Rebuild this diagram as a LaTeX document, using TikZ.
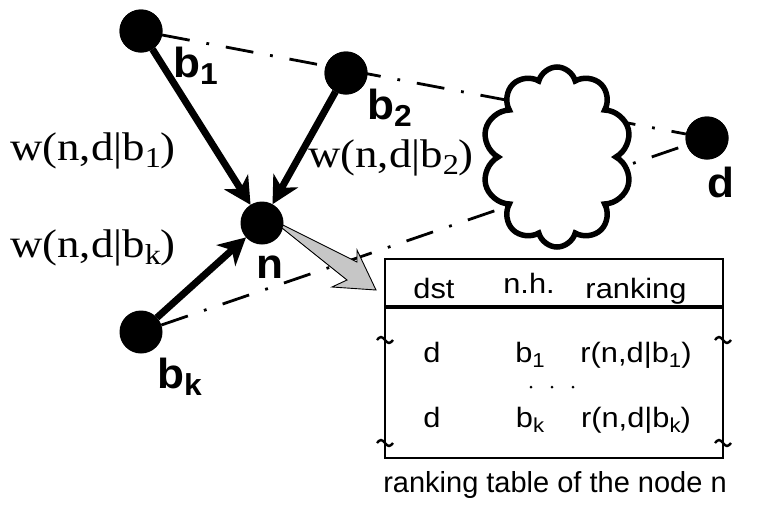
\documentclass[tikz,border=0pt]{standalone}
\usepackage{fontspec}
\usepackage{graphicx}
\usetikzlibrary{arrows.meta,shapes.symbols}
\newfontfamily\lblfont[FakeStretch=1.05]{Liberation Sans}
\newfontfamily\wfont[FakeStretch=1.12]{Liberation Serif}
\newfontfamily\tabfont[FakeStretch=1.1]{Liberation Sans}
\newfontfamily\capfont{Liberation Sans}
\newcommand\lowsub[1]{\raisebox{-0.18em}{\scalebox{0.72}{#1}}}
\tikzset{
  vtx/.style={circle, fill=black, inner sep=0pt, outer sep=0pt, minimum size=43pt},
  warr/.style={line width=7pt, -{Stealth[length=27pt,width=28pt,inset=8pt]}},
  ddot/.style={line width=2.8pt, dash pattern=on 28pt off 17pt on 2.8pt off 17pt},
  vlbl/.style={anchor=base west, inner sep=0pt, font=\lblfont\bfseries\fontsize{42}{48}\selectfont},
  wlbl/.style={anchor=base west, inner sep=0pt, font=\wfont\fontsize{40}{46}\selectfont},
  tlbl/.style={anchor=base, inner sep=0pt, font=\tabfont\fontsize{28}{33}\selectfont},
  tld/.pic={\draw[line width=2.4pt] (-8,0) sin (-4,-3) cos (0,0) sin (4,3) cos (8,0);}
}
\begin{document}
\begin{tikzpicture}[x=1pt,y=-1pt]
\useasboundingbox (0,0) rectangle (757,504);
% vertices
\node[vtx] (b1) at (141,31) {};
\node[vtx] (b2) at (346,73) {};
\node[vtx] (n) at (262,223) {};
\node[vtx] (bk) at (141,332) {};
\node[vtx] (d) at (707,138) {};
% dash-dot paths
\draw[ddot] (b1) -- (d);
\draw[ddot] (bk) -- (d);
% cloud
\node[cloud, draw, fill=white, line width=5.5pt, cloud puffs=10, cloud puff arc=150,
      minimum width=150pt, minimum height=180pt, inner sep=0pt, aspect=0.85] (cl) at (557,157) {};
% redraw vertices on top
\node[vtx] at (b1) {};
\node[vtx] at (b2) {};
\node[vtx] at (d) {};
% arrows into n
\draw[warr] (b1) -- (n);
\draw[warr] (b2) -- (n);
\draw[warr] (bk) -- (n);
% gray pointer
\filldraw[fill=gray!45, draw=black, line width=0.9pt]
  (283,225) -- (357,262) -- (357,250) -- (376,290) -- (332,287) -- (347,280) -- (282,228) -- cycle;
% vertex labels
\node[vlbl] (lb1) at (173,77) {b\lowsub{1}};
\node[vlbl] (lb2) at (367,119) {b\lowsub{2}};
\node[vlbl] (ld) at (707,197) {d};
\node[vlbl] (ln) at (256,278) {n};
\node[vlbl] (lbk) at (157,388) {b\lowsub{k}};
% weight labels
\node[wlbl] (w1) at (10,160) {w(n,d|b\lowsub{1})};
\node[wlbl] (w2) at (308,167) {w(n,d|b\lowsub{2})};
\node[wlbl] (wk) at (10,257) {w(n,d|b\lowsub{k})};
% table
\node[draw, line width=2.6pt, minimum width=338pt, minimum height=199pt, inner sep=0pt, outer sep=0pt] (tbl) at (554,358.5) {};
\coordinate (hl) at (0,307);
\draw[line width=4pt] (tbl.west |- hl) -- (tbl.east |- hl);
\node[tlbl] (h1) at (434,298) {dst};
\node[tlbl] (h2) at (529,293) {n.h.};
\node[tlbl] (h3) at (636,298) {ranking};
\node[tlbl] (r1a) at (432,362) {d};
\node[tlbl] (r1b) at (530,362) {b\lowsub{1}};
\node[tlbl] (r1c) at (636,362) {r(n,d|b\lowsub{1})};
\node[tlbl] (r2a) at (432,427) {d};
\node[tlbl] (r2b) at (530,427) {b\lowsub{k}};
\node[tlbl] (r2c) at (636,427) {r(n,d|b\lowsub{k})};
\foreach \xx in {531,552,573} \fill (\xx,387) circle (1.5pt);
\pic at (385,340) {tld};
\pic at (385,443) {tld};
\pic at (723,340) {tld};
\pic at (723,443) {tld};
\node[anchor=base, inner sep=0pt, font=\capfont\fontsize{29}{34}\selectfont] (cap) at (555,492) {ranking table of the node n};
\end{tikzpicture}
\end{document}
